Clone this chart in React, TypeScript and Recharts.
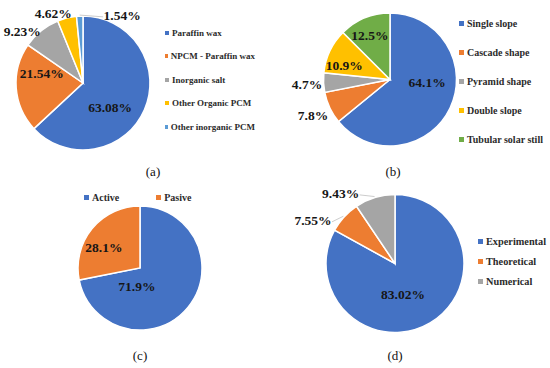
import React from "react";
import { PieChart, Pie, Cell, Legend } from "recharts";

// Excel default palette
const BLUE = "#4472C4";
const ORANGE = "#ED7D31";
const GRAY = "#A5A5A5";
const YELLOW = "#FFC000";
const LIGHTBLUE = "#5B9BD5";
const GREEN = "#70AD47";

// (a) PCM types
const pcmNames = ["Paraffin wax", "NPCM - Paraffin wax", "Inorganic salt", "Other Organic PCM", "Other inorganic PCM"];
const pcmValues = [63.08, 21.54, 9.23, 4.62, 1.54];

// (b) still shapes
const stillNames = ["Single slope", "Cascade shape", "Pyramid shape", "Double slope", "Tubular solar still"];
const stillValues = [64.1, 7.8, 4.7, 10.9, 12.5];

// (c) operating mode
const modeNames = ["Active", "Pasive"];
const modeValues = [71.9, 28.1];

// (d) study type
const studyNames = ["Experimental", "Theoretical", "Numerical"];
const studyValues = [83.02, 7.55, 9.43];

const SERIF = "'Liberation Serif', 'Times New Roman', serif";
const RAD = Math.PI / 180;

interface LegendCfg {
  left: number;
  top: number;
  row: number;
  size: number;
  box: number;
  horizontal?: boolean;
  colGap?: number;
}

interface PanelProps {
  names: string[];
  values: number[];
  colors: string[];
  decimals: number;
  cx: number;
  cy: number;
  r: number;
  labelR: number[];
  labelShift: number[];
  leader: boolean[];
  legend: LegendCfg;
  caption: string;
  captionX: number;
  left: number;
  top: number;
}

function PiePanel(p: PanelProps) {
  const data = p.names.map((name, i) => ({ name, value: p.values[i] }));

  // 数値ラベル（必要に応じて引き出し線つき）
  const renderLabel = (props: any) => {
    const { cx, cy, midAngle, outerRadius, index, value } = props;
    const ang = (midAngle + p.labelShift[index]) * RAD;
    const rr = outerRadius * p.labelR[index];
    const x = cx + rr * Math.cos(ang);
    const y = cy - rr * Math.sin(ang);
    const text = `${Number(value).toFixed(p.decimals)}%`;
    let line = null;
    if (p.leader[index]) {
      const sx = cx + (outerRadius + 1) * Math.cos(midAngle * RAD);
      const sy = cy - (outerRadius + 1) * Math.sin(midAngle * RAD);
      const half = text.length * 3.4;
      const ex = sx > x ? x + half + 2 : x - half - 2;
      line = <polyline points={`${sx},${sy} ${ex},${y + 1}`} fill="none" stroke="#BFBFBF" strokeWidth={0.8} />;
    }
    return (
      <g key={`lbl-${index}`}>
        {line}
        <text
          x={x}
          y={y}
          textAnchor="middle"
          dominantBaseline="central"
          fontFamily={SERIF}
          fontWeight="bold"
          fontSize={13.5}
          fill="#161616"
        >
          {text}
        </text>
      </g>
    );
  };

  const lg = p.legend;
  const legendContent = () => (
    <div style={{ display: "flex", flexDirection: lg.horizontal ? "row" : "column", gap: lg.horizontal ? lg.colGap : 0 }}>
      {p.names.map((name, i) => (
        <div
          key={name}
          style={{
            height: lg.row,
            display: "flex",
            alignItems: "center",
            fontFamily: SERIF,
            fontWeight: "bold",
            fontSize: lg.size,
            color: "#2b2b2b",
            whiteSpace: "nowrap",
          }}
        >
          <span style={{ width: lg.box, height: lg.box, background: p.colors[i], marginRight: 3, display: "inline-block" }} />
          {name}
        </div>
      ))}
    </div>
  );

  return (
    <div style={{ position: "absolute", left: p.left, top: p.top, width: 275, height: 184 }}>
      <PieChart width={275} height={184} margin={{ top: 0, right: 0, bottom: 0, left: 0 }}>
        <Pie
          data={data}
          dataKey="value"
          nameKey="name"
          cx={p.cx}
          cy={p.cy}
          outerRadius={p.r}
          startAngle={90}
          endAngle={-270}
          stroke="#ffffff"
          strokeWidth={1.5}
          label={renderLabel}
          labelLine={false}
          isAnimationActive={false}
        >
          {data.map((d, i) => (
            <Cell key={d.name} fill={p.colors[i]} />
          ))}
        </Pie>
        <Legend
          content={legendContent}
          wrapperStyle={{ left: lg.left, top: lg.top, bottom: "auto", width: 90 }}
        />
      </PieChart>
      <div
        style={{
          position: "absolute",
          left: p.captionX - 20,
          top: 164,
          width: 40,
          textAlign: "center",
          fontFamily: SERIF,
          fontSize: 13,
          color: "#111",
        }}
      >
        {p.caption}
      </div>
    </div>
  );
}

export default function App() {
  return (
    <div style={{ position: "absolute", left: 0, top: 0, width: 550, height: 368, background: "#fff", overflow: "hidden" }}>
      <PiePanel
        names={pcmNames}
        values={pcmValues}
        colors={[BLUE, ORANGE, GRAY, YELLOW, LIGHTBLUE]}
        decimals={2}
        cx={83}
        cy={83}
        r={67}
        labelR={[0.55, 0.63, 1.19, 1.13, 1.16]}
        labelShift={[-19, -16.5, 10.8, 9.3, -33]}
        leader={[false, false, false, false, true]}
        legend={{ left: 165, top: 21, row: 23.5, size: 9, box: 4 }}
        caption="(a)"
        captionX={153}
        left={0}
        top={0}
      />
      <PiePanel
        names={stillNames}
        values={stillValues}
        colors={[BLUE, ORANGE, GRAY, YELLOW, GREEN]}
        decimals={1}
        cx={115}
        cy={79.5}
        r={66.5}
        labelR={[0.56, 1.28, 1.25, 0.72, 0.73]}
        labelShift={[20, 0, 1, 8, 2]}
        leader={[false, false, false, false, false]}
        legend={{ left: 184, top: 8.5, row: 29, size: 10, box: 5 }}
        caption="(b)"
        captionX={118}
        left={275}
        top={0}
      />
      <PiePanel
        names={modeNames}
        values={modeValues}
        colors={[BLUE, ORANGE]}
        decimals={1}
        cx={140}
        cy={84}
        r={62}
        labelR={[0.31, 0.67]}
        labelShift={[-60, 10]}
        leader={[false, false]}
        legend={{ left: 84, top: 3, row: 20, size: 10, box: 5, horizontal: true, colGap: 37 }}
        caption="(c)"
        captionX={140}
        left={0}
        top={184}
      />
      <PiePanel
        names={studyNames}
        values={studyValues}
        colors={[BLUE, ORANGE, GRAY]}
        decimals={2}
        cx={120}
        cy={79.5}
        r={69}
        labelR={[0.46, 1.34, 1.28]}
        labelShift={[-16, 15, 21]}
        leader={[false, true, true]}
        legend={{ left: 203, top: 47, row: 20, size: 10.3, box: 5 }}
        caption="(d)"
        captionX={120}
        left={275}
        top={184}
      />
    </div>
  );
}
